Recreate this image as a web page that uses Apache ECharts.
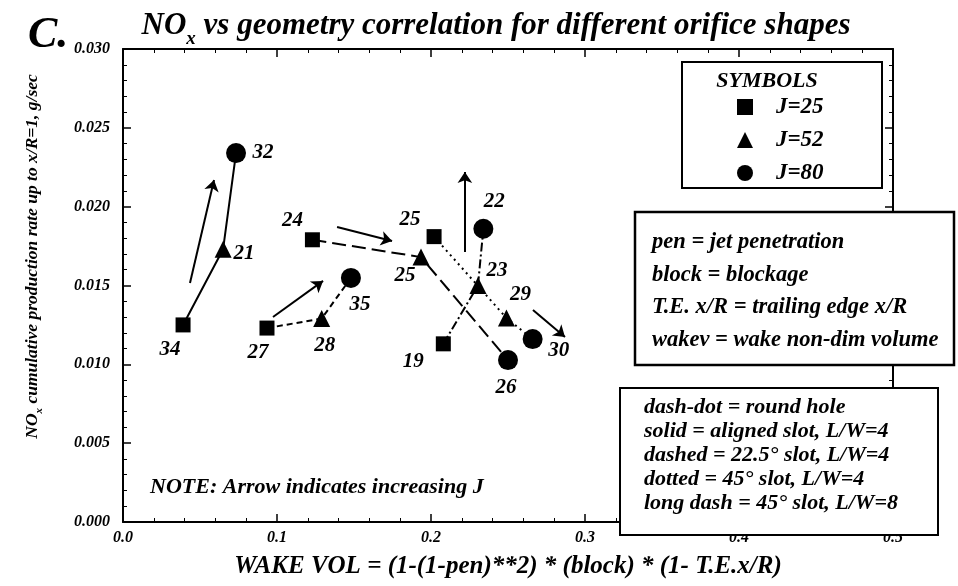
<!DOCTYPE html>
<html>
<head>
<meta charset="utf-8">
<script src="https://cdn.jsdelivr.net/npm/echarts@6/dist/echarts.min.js"></script>
<style>
  html, body { margin: 0; padding: 0; background: #fff; }
  #chart { width: 958px; height: 586px; }
</style>
</head>
<body>
<div id="chart"></div>
<script>
// orifice shapes, one line each (J=25 -> J=52 -> J=80)
const shapes = ["round hole", "aligned slot, L/W=4", "22.5° slot, L/W=4", "45° slot, L/W=4", "45° slot, L/W=8"];
const lineDash = [[9, 3, 2, 3], null, [6, 4], [2, 4], [14, 6]];

// run numbers
const runJ25 = [19, 34, 27, 25, 24];
const runJ52 = [23, 21, 28, 29, 25];
const runJ80 = [22, 32, 35, 30, 26];

// wake volume (x)
const wakeJ25 = [0.208, 0.039, 0.0935, 0.202, 0.123];
const wakeJ52 = [0.2305, 0.065, 0.129, 0.249, 0.1935];
const wakeJ80 = [0.234, 0.0734, 0.148, 0.266, 0.25];

// NOx rate (y)
const noxJ25 = [0.0113, 0.0125, 0.0123, 0.0181, 0.0179];
const noxJ52 = [0.015, 0.0173, 0.0129, 0.01294, 0.0168];
const noxJ80 = [0.0186, 0.0234, 0.01548, 0.0116, 0.01027];

// "increasing J" arrows, one per shape
const arrowX0 = [0.222, 0.0435, 0.0974, 0.2662, 0.139];
const arrowY0 = [0.01712, 0.01516, 0.013, 0.01345, 0.01871];
const arrowX1 = [0.222, 0.0591, 0.1299, 0.287, 0.1747];
const arrowY1 = [0.0222, 0.02169, 0.01529, 0.01173, 0.01782];

// label placement next to each marker (px)
const offJ25 = [[-30, 18], [-13, 25], [-9, 25], [-24, -17], [-20, -19]];
const offJ52 = [[19, -15], [21, 4], [3, 27], [14, -23], [-16, 18]];
const offJ80 = [[11, -27], [27, 0], [9, 27], [26, 11], [-2, 28]];

const FONT = "Liberation Serif";
const bi = { fontFamily: FONT, fontStyle: "italic", fontWeight: "bold", color: "#000" };
const biG = (size) => ({ fill: "#000", fontFamily: FONT, fontStyle: "italic", fontWeight: "bold", fontSize: size });

const chart = echarts.init(document.getElementById("chart"), null, { renderer: "canvas" });

function pointSeries(name, symbol, size, runs, xs, ys, offs) {
  return {
    name: name,
    type: "scatter",
    symbol: symbol,
    symbolSize: size,
    itemStyle: { color: "#000", opacity: 1 },
    z: 5,
    data: runs.map((r, i) => ({
      value: [xs[i], ys[i]],
      label: { offset: offs[i] },
      run: r,
    })),
    label: {
      show: true,
      position: "inside",
      formatter: (p) => String(p.data.run),
      ...bi,
      fontSize: 21,
    },
  };
}

const lineSeries = shapes.map((s, i) => ({
  name: s,
  type: "line",
  symbol: "none",
  silent: true,
  lineStyle: { color: "#000", width: 2, type: lineDash[i] || "solid" },
  data: [[wakeJ25[i], noxJ25[i]], [wakeJ52[i], noxJ52[i]], [wakeJ80[i], noxJ80[i]]],
}));

const axisCommon = {
  axisLine: { show: true, onZero: false, lineStyle: { color: "#000", width: 2 } },
  axisTick: { show: true, inside: true, length: 8, lineStyle: { color: "#000", width: 1.5 } },
  minorTick: { show: true, splitNumber: 5, length: 4, lineStyle: { color: "#000", width: 1 } },
  splitLine: { show: false },
};

const option = {
  animation: false,
  backgroundColor: "#fff",
  title: {
    text: "{n|NO}{s|x}{n| vs geometry correlation for different orifice shapes}",
    left: 491,
    top: -2,
    textAlign: "center",
    textStyle: {
      rich: {
        n: { ...bi, fontSize: 31, lineHeight: 46, verticalAlign: "middle" },
        s: { ...bi, fontSize: 19, lineHeight: 46, verticalAlign: "bottom" },
      },
    },
  },
  grid: { left: 123, right: 65, top: 49, bottom: 64 },
  legend: {
    orient: "vertical",
    left: 737,
    top: 95,
    padding: 0,
    itemGap: 9,
    itemWidth: 16,
    itemHeight: 16,
    selectedMode: false,
    data: ["J=25", "J=52", "J=80"],
    textStyle: { ...bi, fontSize: 23, lineHeight: 24, padding: [0, 0, 0, 18] },
    z: 20,
  },
  xAxis: [
    {
      type: "value",
      min: 0,
      max: 0.5,
      interval: 0.1,
      ...axisCommon,
      axisLabel: { ...bi, fontSize: 16, margin: 8, formatter: (v) => v.toFixed(1) },
      name: "WAKE VOL = (1-(1-pen)**2) * (block) * (1- T.E.x/R)",
      nameLocation: "middle",
      nameGap: 32,
      nameTextStyle: { ...bi, fontSize: 25 },
    },
    {
      type: "value",
      position: "top",
      min: 0,
      max: 0.5,
      interval: 0.1,
      ...axisCommon,
      axisLabel: { show: false },
    },
  ],
  yAxis: [
    {
      type: "value",
      min: 0,
      max: 0.03,
      interval: 0.005,
      ...axisCommon,
      axisLabel: { ...bi, fontSize: 16, margin: 13, formatter: (v) => v.toFixed(3) },
      name: "{n|NO}{s|x}{n| cumulative production rate up to x/R=1, g/sec}",
      nameLocation: "middle",
      nameRotate: 90,
      nameGap: 78,
      nameTextStyle: {
        padding: [0, 0, 0, 58],
        rich: {
          n: { ...bi, fontSize: 17.5, lineHeight: 26, verticalAlign: "middle" },
          s: { ...bi, fontSize: 11, lineHeight: 26, verticalAlign: "bottom" },
        },
      },
    },
    {
      type: "value",
      position: "right",
      min: 0,
      max: 0.03,
      interval: 0.005,
      ...axisCommon,
      axisLabel: { show: false },
    },
  ],
  graphic: [
    { type: "text", x: 28, y: 14, style: { text: "C.", ...biG(44) } },
    { type: "text", x: 150, y: 476, z: 10, style: { text: "NOTE: Arrow indicates increasing J", ...biG(22) } },
    // SYMBOLS box
    { type: "rect", shape: { x: 682, y: 62, width: 200, height: 126 }, style: { fill: "#fff", stroke: "#000", lineWidth: 2 }, z: 10 },
    { type: "text", x: 767, y: 81, z: 11, style: { text: "SYMBOLS", ...biG(22), align: "center", verticalAlign: "middle" } },
    // definitions box
    { type: "rect", shape: { x: 635, y: 212, width: 319, height: 153 }, style: { fill: "#fff", stroke: "#000", lineWidth: 2.5 }, z: 10 },
    {
      type: "text", x: 652, y: 226, z: 11,
      style: {
        text: "pen = jet penetration\nblock = blockage\nT.E. x/R = trailing edge x/R\nwakev = wake non-dim volume",
        ...biG(22.5), lineHeight: 32.5,
      },
    },
    // line-style box
    { type: "rect", shape: { x: 620, y: 388, width: 318, height: 147 }, style: { fill: "#fff", stroke: "#000", lineWidth: 2 }, z: 10 },
    {
      type: "text", x: 644, y: 395, z: 11,
      style: {
        text: "dash-dot = round hole\nsolid = aligned slot, L/W=4\ndashed = 22.5° slot, L/W=4\ndotted = 45° slot, L/W=4\nlong dash = 45° slot, L/W=8",
        ...biG(22), lineHeight: 24,
      },
    },
  ],
  series: [
    ...lineSeries,
    pointSeries("J=25", "rect", 15, runJ25, wakeJ25, noxJ25, offJ25),
    pointSeries("J=52", "triangle", 17, runJ52, wakeJ52, noxJ52, offJ52),
    pointSeries("J=80", "circle", 20, runJ80, wakeJ80, noxJ80, offJ80),
    {
      name: "increasing J",
      type: "lines",
      coordinateSystem: "cartesian2d",
      silent: true,
      symbol: ["none", "arrow"],
      symbolSize: 11,
      lineStyle: { color: "#000", width: 2, opacity: 1, curveness: 0 },
      data: arrowX0.map((x, i) => ({ coords: [[x, arrowY0[i]], [arrowX1[i], arrowY1[i]]] })),
    },
  ],
};

chart.setOption(option);
</script>
</body>
</html>
